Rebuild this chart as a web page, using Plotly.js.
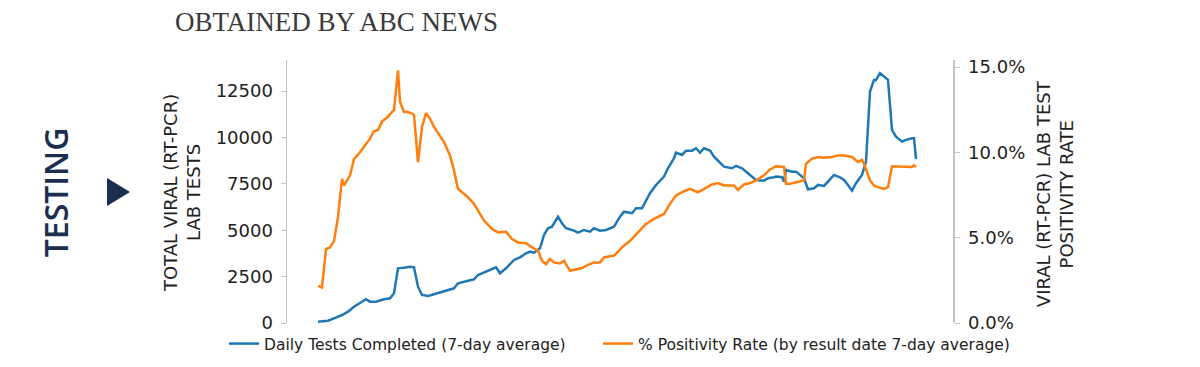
<!DOCTYPE html>
<html>
<head>
<meta charset="utf-8">
<script src="https://cdn.plot.ly/plotly-3.0.1.min.js"></script>
<style>html,body{margin:0;padding:0;background:#fff;}#chart{width:1200px;height:367px;}</style>
</head>
<body>
<div id="chart"></div>
<script>
// Day index (no dates shown on the chart)
const testsDay = [0,5,8,12,15,18,22,24,26,29,33,36,38,40,43,46,48,50,52,55,58,62,65,68,70,73,75,78,80,83,87,89,91,94,98,101,104,106,108,111,113,115,117,120,122,124,128,130,133,136,138,141,144,148,151,153,157,159,162,164,166,169,173,175,178,179,182,184,187,189,191,193,196,198,201,203,207,209,212,214,217,219,223,225,228,229,232,233,234,237,239,242,243,245,248,250,253,255,258,261,263,265,267,269,272,274,276,278,279,281,283,285,287,289,292,294,297,298,299];
const testsVal = [70,124,253,431,609,879,1148,1277,1148,1148,1277,1331,1601,2948,2981,3035,3002,1957,1509,1455,1547,1687,1779,1870,2140,2226,2280,2355,2587,2733,2894,3002,2679,2948,3396,3541,3757,3843,3789,4026,4743,5104,5191,5730,5374,5104,4975,4867,5013,4921,5104,4975,5013,5191,5730,5999,5913,6182,6182,6630,6991,7438,7886,8338,8877,9179,9055,9287,9287,9416,9179,9416,9287,8963,8608,8425,8338,8462,8338,8155,7923,7708,7670,7799,7853,7886,7853,7616,8247,8155,8155,7886,7799,7206,7260,7438,7384,7616,7977,7853,7708,7438,7131,7530,7977,8694,12467,13098,13098,13459,13276,13098,10403,10042,9772,9864,9955,9955,8824];

const posDay = [0,2,4,6,8,10,12,13,16,18,21,23,26,28,30,32,35,37,38,40,41,43,45,47,48,50,52,54,56,58,61,63,66,68,70,73,74,78,80,83,87,90,94,97,100,104,107,110,112,114,116,118,121,123,126,129,132,134,138,141,143,147,148,152,156,160,164,168,173,176,179,183,186,190,193,197,200,203,208,210,213,216,219,223,226,229,233,234,236,239,243,244,247,250,253,257,260,263,267,270,272,273,276,278,280,283,285,287,290,293,297,298,299];
const posVal = [2.18,2.08,4.33,4.43,4.8,6.2,8.45,8.06,8.65,9.6,10.0,10.3,10.8,11.25,11.3,11.8,12.08,12.37,12.47,14.8,12.96,12.37,12.37,12.27,12.18,9.43,11.49,12.3,11.98,11.49,11.0,10.6,9.82,8.94,7.86,7.57,7.47,6.98,6.59,6.0,5.51,5.31,5.35,4.92,4.72,4.67,4.43,4.24,3.65,3.45,3.75,3.55,3.49,3.65,3.06,3.16,3.22,3.35,3.55,3.55,3.84,3.94,3.94,4.43,4.82,5.31,5.8,6.1,6.39,6.98,7.47,7.72,7.86,7.66,7.86,8.12,8.2,8.06,8.06,7.8,8.12,8.2,8.35,8.65,9.0,9.18,9.14,8.16,8.16,8.25,8.35,9.33,9.63,9.73,9.69,9.73,9.82,9.82,9.73,9.43,9.57,9.33,8.35,8.06,7.96,7.86,7.96,9.18,9.18,9.18,9.14,9.24,9.14];

const leftTicks = [0,2500,5000,7500,10000,12500];
const rightTicks = [0,5,10,15];
const rightTickText = ['0.0%','5.0%','10.0%','15.0%'];

const seriesNames = ['Daily Tests Completed (7-day average)','% Positivity Rate (by result date 7-day average)'];

const traces = [
  {x: testsDay, y: testsVal, name: seriesNames[0], type:'scatter', mode:'lines',
   line:{color:'#1f77b4', width:2.5}, yaxis:'y', legend:'legend'},
  {x: posDay, y: posVal, name: seriesNames[1], type:'scatter', mode:'lines',
   line:{color:'#ff7f0e', width:2.5}, yaxis:'y2', legend:'legend2'}
];

const axisFont = {family:'DejaVu Sans', size:18, color:'#222'};
const legendFont = {family:'DejaVu Sans', size:15.5, color:'#222'};
const layout = {
  width:1200, height:367,
  margin:{l:287, r:247, t:60, b:44, pad:0, autoexpand:false},
  paper_bgcolor:'#fff', plot_bgcolor:'#fff',
  showlegend:true,
  title:{text:'OBTAINED BY ABC NEWS', font:{family:'Liberation Serif', size:27, color:'#3a3a3a'},
         x:175/1200, xanchor:'left', xref:'container', y:1-22/367, yanchor:'middle', yref:'container'},
  xaxis:{visible:false, range:[-15.5,317.5]},
  yaxis:{range:[0,14170], tickvals:leftTicks, ticktext:leftTicks.map(String), showgrid:false, zeroline:false,
         showline:true, linecolor:'#c4c4c4', linewidth:1.5, ticks:'outside', ticklen:5, tickcolor:'#c4c4c4',
         tickfont:axisFont, ticklabelstandoff:4},
  yaxis2:{range:[0,15.41], overlaying:'y', side:'right', tickvals:rightTicks, ticktext:rightTickText,
          showgrid:false, zeroline:false, showline:true, linecolor:'#c4c4c4', linewidth:1.5,
          ticks:'outside', ticklen:5, tickcolor:'#c4c4c4', tickfont:axisFont, ticklabelstandoff:5},
  legend:{orientation:'h', x:(224-287)/666, xanchor:'left', y:-0.0798, yanchor:'middle',
          font:legendFont, bgcolor:'rgba(0,0,0,0)'},
  legend2:{orientation:'h', x:(598-287)/666, xanchor:'left', y:-0.0798, yanchor:'middle',
          font:legendFont, bgcolor:'rgba(0,0,0,0)'},
  annotations:[
    {text:'TOTAL VIRAL (RT-PCR)<br>LAB TESTS', xref:'paper', yref:'paper', x:(182-287)/666, y:0.494,
     xanchor:'center', yanchor:'middle', textangle:-90, showarrow:false,
     font:{family:'DejaVu Sans', size:18, color:'#222'}},
    {text:'VIRAL (RT-PCR) LAB TEST<br>POSITIVITY RATE', xref:'paper', yref:'paper', x:(1055-287)/666, y:0.49,
     xanchor:'center', yanchor:'middle', textangle:-90, showarrow:false,
     font:{family:'DejaVu Sans', size:18, color:'#222'}},
    {text:'TESTING', xref:'paper', yref:'paper', x:(55-287)/666, y:0.497,
     xanchor:'center', yanchor:'middle', textangle:-90, showarrow:false,
     font:{family:'Open Sans', size:32, color:'#1c2e4f', weight:600}}
  ],
  shapes:[
    {type:'path', xref:'paper', yref:'paper',
     path:'M -0.2703 0.5513 L -0.2357 0.4981 L -0.2703 0.4449 Z',
     fillcolor:'#1c2e4f', line:{width:0}}
  ]
};

Plotly.newPlot('chart', traces, layout, {displayModeBar:false, staticPlot:true});
</script>
</body>
</html>
